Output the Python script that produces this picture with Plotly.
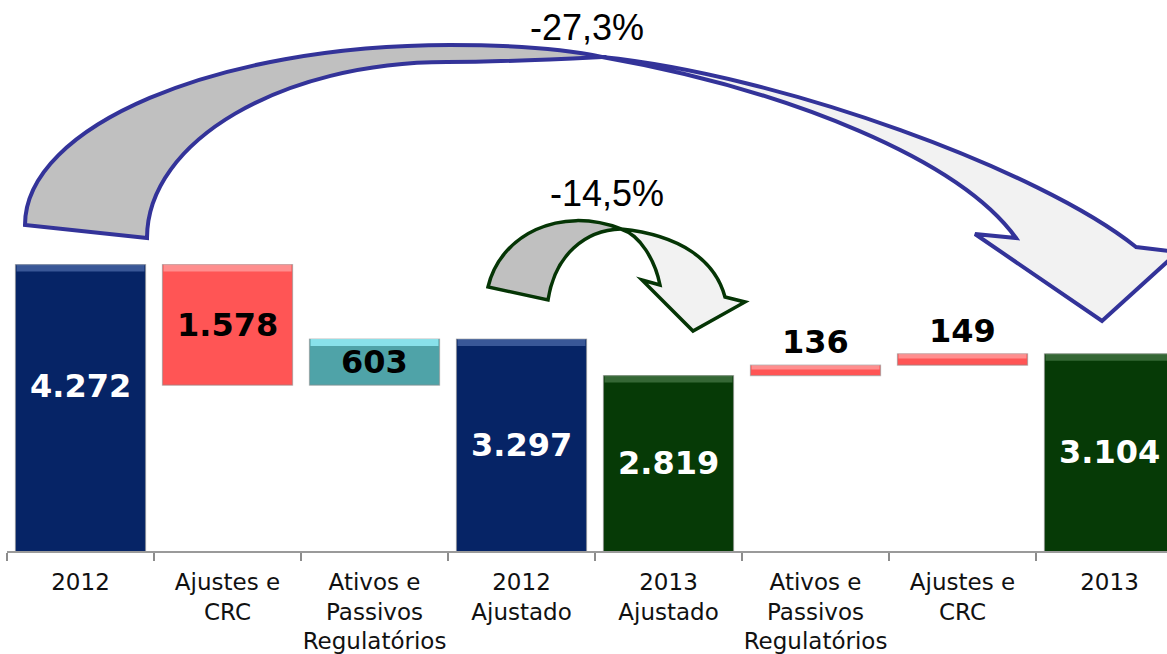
import plotly.graph_objects as go

# waterfall data (values in R$ milhões, pt-BR formatting)
categories = [
    "2012",
    "Ajustes e<br>CRC",
    "Ativos e<br>Passivos<br>Regulatórios",
    "2012<br>Ajustado",
    "2013<br>Ajustado",
    "Ativos e<br>Passivos<br>Regulatórios\u200b",
    "Ajustes e<br>CRC\u200b",
    "2013",
]
measures = ["absolute", "relative", "relative", "total", "absolute", "relative", "relative", "total"]
values = [4272, -1578, 603, 3297, 2819, 136, 149, 3104]
bar_colors = ["#062466", "#FF5555", "#4FA3A8", "#062466", "#063A06", "#FF5555", "#FF5555", "#063A06"]
shine_colors = ["rgba(120,150,210,0.45)", "rgba(255,190,190,0.55)", "rgba(150,240,250,0.8)",
                "rgba(120,150,210,0.45)", "rgba(110,160,110,0.45)", "rgba(255,190,190,0.55)",
                "rgba(255,190,190,0.55)", "rgba(110,160,110,0.45)"]
label_colors = ["white", "black", "black", "white", "white", "black", "black", "white"]
label_outside = [False, False, False, False, False, True, True, False]

pct_total = "-27,3%"
pct_adjusted = "-14,5%"

W, H = 1167, 654
ML, MB = 7, 103
PW, PH = W - ML, H - MB
Y_MIN, Y_MAX = 523, 7736
X_MIN, X_MAX = -0.5, -0.5 + PW / 147
UNITS_PER_PX = (Y_MAX - Y_MIN) / PH

# compute bar bases / heights
bases, heights, tops = [], [], []
running = 0
for m, v in zip(measures, values):
    if m in ("absolute", "total"):
        base, h = 0, v
        running = v
    else:
        new = running + v
        base, h = min(running, new), abs(v)
        running = new
    bases.append(base)
    heights.append(h)
    tops.append(base + h)


def fmt(v):
    return f"{abs(v):,}".replace(",", ".")


fig = go.Figure(go.Bar(
    x=categories, y=heights, base=bases, width=0.885,
    marker=dict(color=bar_colors, line=dict(color="rgba(140,140,140,0.55)", width=1.2)),
    hoverinfo="skip",
))

# thin lighter band on top of each bar (bevel look)
shine_h = [min(7 * UNITS_PER_PX, 0.4 * h) for h in heights]
fig.add_trace(go.Bar(
    x=categories, y=shine_h, base=[t - s for t, s in zip(tops, shine_h)], width=0.87,
    marker=dict(color=shine_colors, line=dict(width=0)), hoverinfo="skip",
))

for i, (b, t, v, col, out) in enumerate(zip(bases, tops, values, label_colors, label_outside)):
    if out:
        fig.add_annotation(x=i, y=t, text=f"<b>{fmt(v)}</b>", showarrow=False,
                           yanchor="bottom", yshift=2,
                           font=dict(family="DejaVu Sans", size=32, color=col))
    else:
        # the first bar's label sits higher in the source slide
        fig.add_annotation(x=i, y=(max(b, Y_MIN) + t) / 2, text=f"<b>{fmt(v)}</b>", showarrow=False,
                           yshift=22 if i == 0 else 0,
                           font=dict(family="DejaVu Sans", size=32, color=col))


# decorative curved arrows, traced in pixel space and mapped to paper coords
def P(x, y):
    return f"{(x - ML) / PW:.5f},{(PH - y) / PH:.5f}"


def path(cmds):
    out = []
    for c, pts in cmds:
        if c == "Z":
            out.append("Z")
        elif c == "L":
            out.extend("L" + P(*p) for p in pts)
        else:
            out.append(c + P(pts[0][0], pts[0][1]) + "".join(" " + P(*p) for p in pts[1:]))
    return " ".join(out)


big_back = path([
    ("M", [(25, 225)]),
    ("C", [(25, 126), (216, 45), (450, 45)]),
    ("C", [(520, 45), (570, 50), (602, 57)]),
    ("C", [(540, 60), (500, 62), (447, 62)]),
    ("C", [(282, 62), (147, 141), (147, 238)]),
    ("Z", []),
])
big_front = path([
    ("M", [(602, 57)]),
    ("C", [(780, 75), (1040, 170), (1136, 247)]),
    ("L", [(1178, 252), (1102, 321), (975, 234), (1016, 238)]),
    ("C", [(960, 160), (790, 90), (602, 57)]),
    ("Z", []),
])
small_back = path([
    ("M", [(488, 287)]),
    ("C", [(500, 235), (560, 205), (621, 229)]),
    ("C", [(585, 230), (555, 255), (548, 300)]),
    ("Z", []),
])
small_front = path([
    ("M", [(621, 229)]),
    ("C", [(680, 235), (715, 260), (725, 297)]),
    ("L", [(745, 302), (693, 331), (642, 280), (660, 285)]),
    ("C", [(655, 260), (640, 235), (621, 229)]),
    ("Z", []),
])

for p, fill, line, lw in [
    (big_back, "#C0C0C0", "#333399", 4),
    (big_front, "#F2F2F2", "#333399", 4),
    (small_back, "#C0C0C0", "#053505", 3.5),
    (small_front, "#F2F2F2", "#053505", 3.5),
]:
    fig.add_shape(type="path", path=p, xref="paper", yref="paper",
                  fillcolor=fill, line=dict(color=line, width=lw), layer="above")

fig.add_annotation(x=(587 - ML) / PW, y=1, xref="paper", yref="paper", yanchor="top", yshift=-5,
                   text=pct_total, showarrow=False,
                   font=dict(family="Liberation Sans, Arial", size=36, color="black"))
fig.add_annotation(x=(607 - ML) / PW, y=(PH - 193) / PH, xref="paper", yref="paper",
                   text=pct_adjusted, showarrow=False,
                   font=dict(family="Liberation Sans, Arial", size=36, color="black"))

fig.update_layout(
    width=W, height=H,
    margin=dict(l=ML, r=0, t=0, b=MB, autoexpand=False),
    paper_bgcolor="white", plot_bgcolor="white",
    showlegend=False, barmode="overlay",
    font=dict(family="DejaVu Sans", size=23, color="#111111"),
    xaxis=dict(
        type="category", range=[X_MIN, X_MAX], tickson="boundaries", tickangle=0,
        ticks="outside", ticklen=8, tickwidth=1.5, tickcolor="#8C8C8C",
        showline=True, linecolor="#9A9A9A", linewidth=2, showgrid=False,
        tickfont=dict(family="DejaVu Sans", size=23, color="#111111"),
        ticklabelstandoff=9, automargin=False, fixedrange=True,
    ),
    yaxis=dict(range=[Y_MIN, Y_MAX], visible=False, fixedrange=True, automargin=False),
)

fig.write_html("out.html", config={"displayModeBar": False},
               post_script="document.body.style.margin='0';")
